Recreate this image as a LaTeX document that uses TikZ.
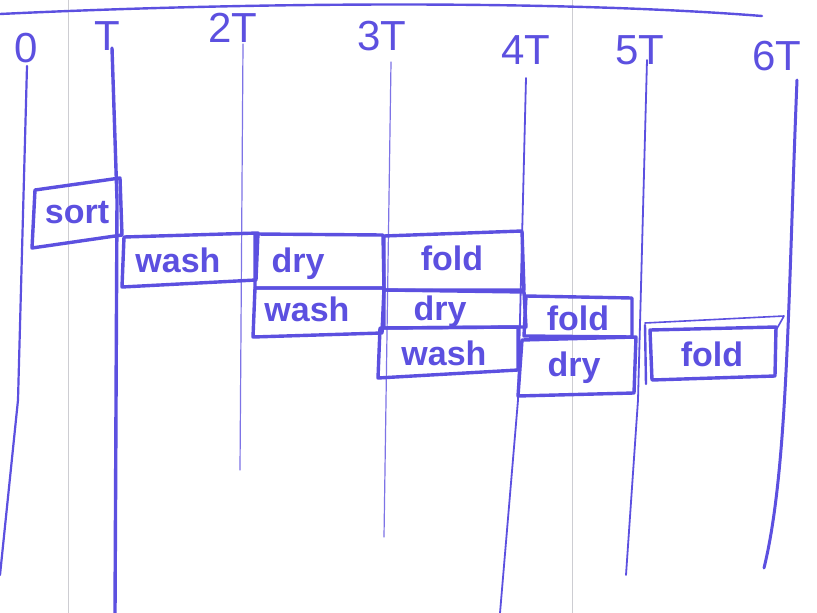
\documentclass[tikz,border=0pt]{standalone}
\usepackage{fontspec}
\setmainfont{Liberation Sans}
\definecolor{ink}{RGB}{92,80,224}
\definecolor{fold}{RGB}{205,205,210}
\begin{document}
\begin{tikzpicture}[x=1pt,y=-1pt,
  pen/.style={draw=ink,line width=3.4pt,line cap=round,line join=round},
  thinpen/.style={draw=ink!80,line width=1.2pt,line cap=round},
  crease/.style={draw=fold,line width=0.6pt},
  ticklbl/.style={text=ink,font=\fontsize{42}{42}\selectfont,inner sep=0pt},
  task/.style={text=ink,font=\bfseries\fontsize{34}{34}\selectfont,inner sep=0pt}]
\useasboundingbox[fill=white] (0,0) rectangle (817,613);

% paper creases
\draw[crease] (68,0) -- (68,613);
\draw[crease] (572,0) -- (572,613);

% top rule
\draw[pen,line width=2.4pt] (0,14) .. controls (250,2) and (560,0) .. (762,16);

% time labels
\node[ticklbl] (l0) at (26,48) {0};
\node[ticklbl] (l1) at (107,36) {T};
\node[ticklbl] (l2) at (233,28) {2T};
\node[ticklbl] (l3) at (382,36) {3T};
\node[ticklbl] (l4) at (526,50) {4T};
\node[ticklbl] (l5) at (640,50) {5T};
\node[ticklbl] (l6) at (777,56) {6T};

% time marks
\draw[pen,line width=2.2pt] (27,66) -- (18,400) -- (0,575);
\draw[pen] (112,48) -- (117,200) -- (115,613);
\draw[thinpen] (243,44) -- (240,470);
\draw[thinpen] (391,62) -- (384,537);
\draw[pen,line width=1.8pt] (526,78) -- (518,400) -- (500,613);
\draw[pen,line width=1.8pt] (647,60) -- (638,400) -- (626,575);
\draw[pen,line width=3pt] (797,80) .. controls (788,300) and (788,470) .. (764,568);

% stage boxes
\draw[pen] (35,190) -- (120,178) -- (122,235) -- (32,248) -- cycle;
\node[task] (sort) at (77,213) {sort};

\draw[pen] (124,237) -- (258,233) -- (256,280) -- (122,287) -- cycle;
\node[task] (wash1) at (178,260) {wash};

\draw[pen] (255,234) -- (383,235) -- (384,288) -- (255,288) -- cycle;
\node[task] (dry1) at (298,264) {dry};
\draw[pen] (255,288) -- (384,288) -- (382,333) -- (253,337) -- cycle;
\node[task] (wash2) at (307,309) {wash};

\draw[pen] (384,236) -- (522,231) -- (524,290) -- (384,290) -- cycle;
\node[task] (fold1) at (452,258) {fold};
\draw[pen] (384,290) -- (524,292) -- (526,327) -- (384,328) -- cycle;
\node[task] (dry2) at (440,312) {dry};
\draw[pen] (380,328) -- (518,327) -- (518,370) -- (378,378) -- cycle;
\node[task] (wash3) at (444,353) {wash};

\draw[pen] (526,296) -- (632,298) -- (632,337) -- (524,336) -- cycle;
\node[task] (fold2) at (578,318) {fold};
\draw[pen] (522,340) -- (636,337) -- (634,393) -- (518,396) -- cycle;
\node[task] (dry3) at (574,368) {dry};

\draw[pen,line width=1.6pt] (645,323) -- (784,316) -- (775,332);
\draw[pen] (650,330) -- (776,327) -- (775,376) -- (652,380) -- cycle;
\draw[pen,line width=2.4pt] (645,325) -- (646,384);
\node[task] (fold3) at (712,354) {fold};
\end{tikzpicture}
\end{document}
